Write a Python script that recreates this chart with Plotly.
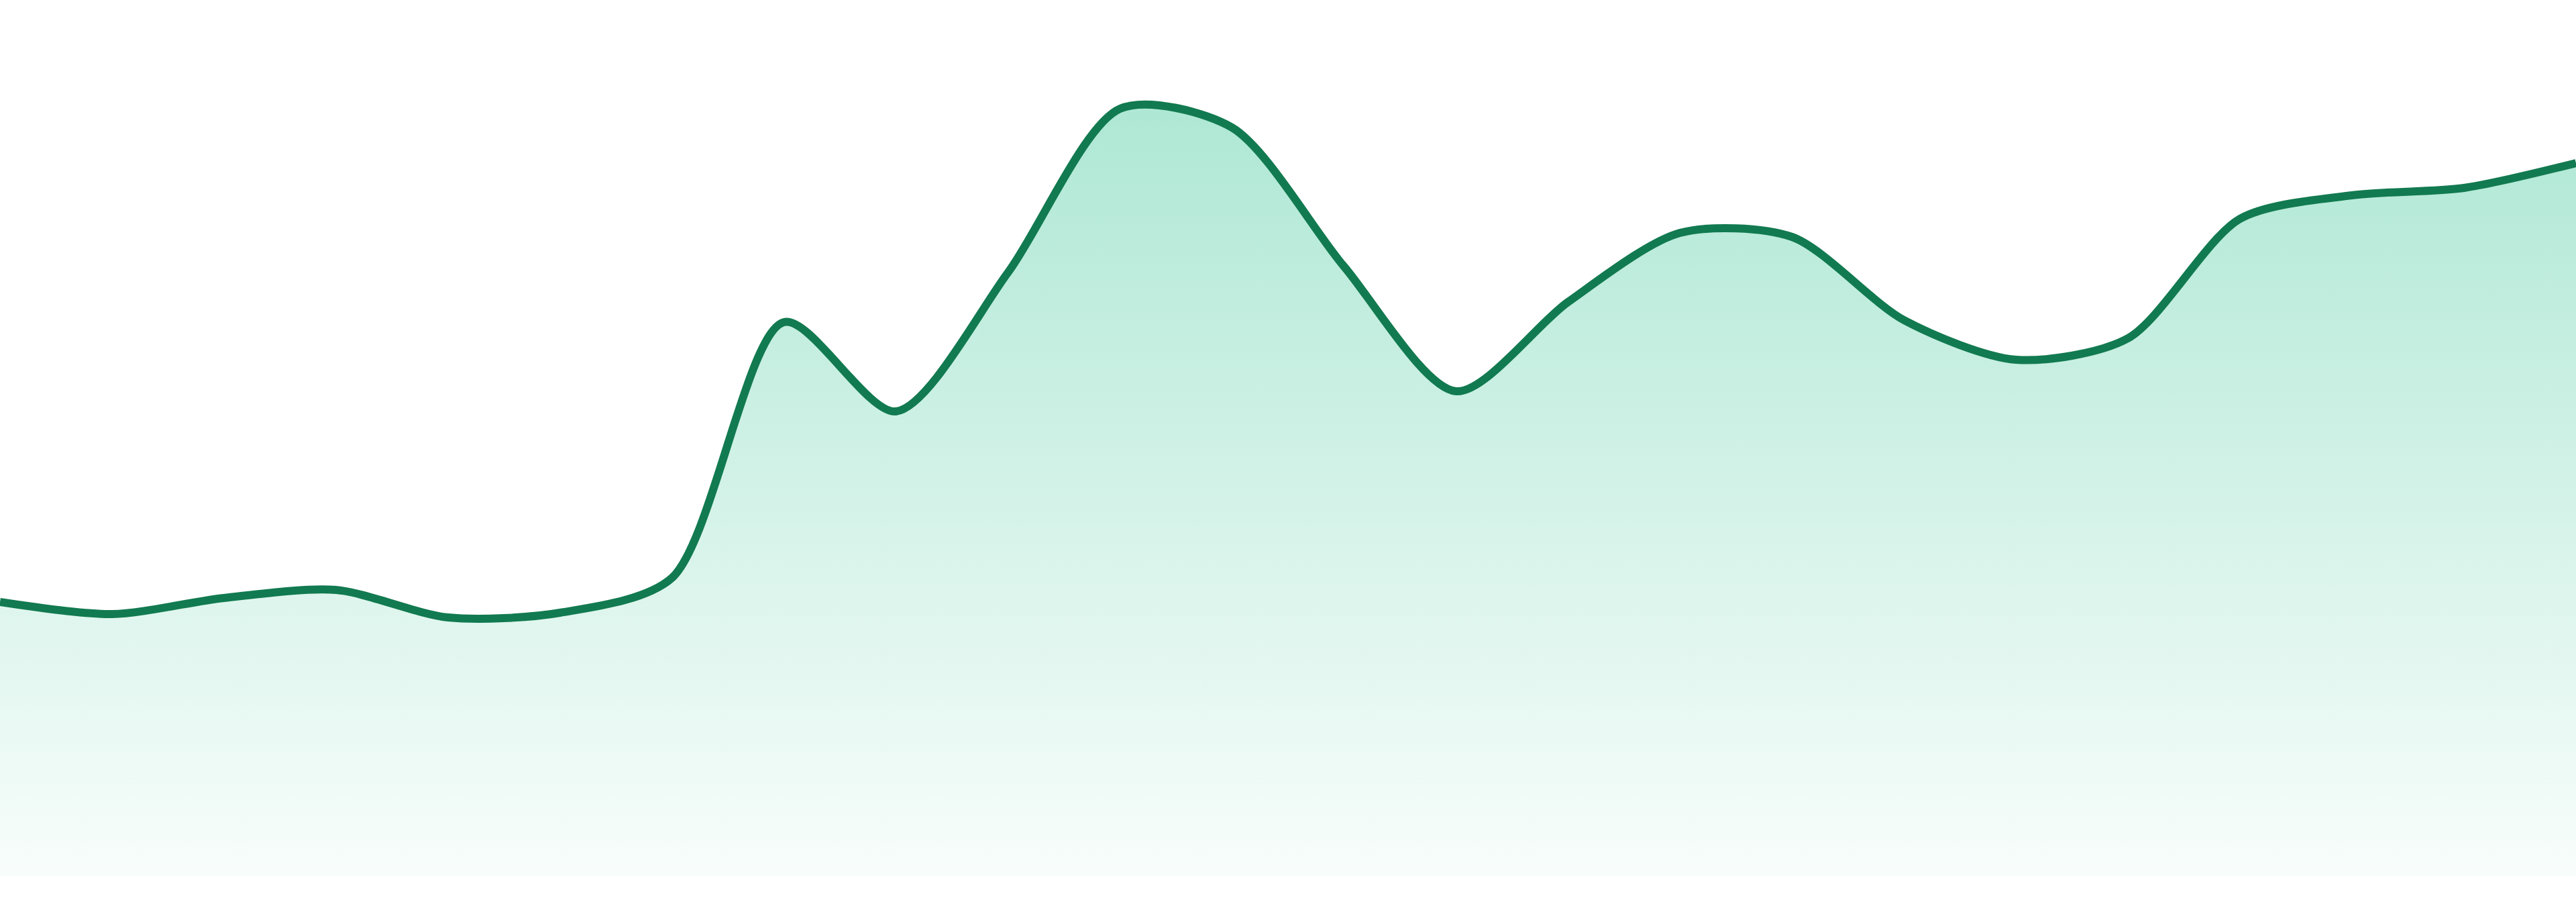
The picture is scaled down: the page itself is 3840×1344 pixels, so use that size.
"""
Area trend - smoothed green line with a soft vertical gradient fill
"""

import plotly.graph_objects as go

# Data (24 evenly spaced samples)
periods = list(range(24))
values = [
    40.8, 39.0, 41.4, 42.6, 38.5, 39.2, 44.4, 82.5,
    69.2, 89.9, 114.3, 111.5, 90.8, 72.2, 85.5, 95.8,
    95.2, 82.8, 76.9, 80.1, 97.9, 101.4, 102.5, 106.2,
]
y_top = 130.5

line_color = "#127a50"

fig = go.Figure()

fig.add_trace(
    go.Scatter(
        x=periods,
        y=values,
        mode="lines",
        line=dict(color=line_color, width=12, shape="spline", smoothing=0.8),
        fill="tozeroy",
        fillgradient=dict(
            type="vertical",
            start=0,
            stop=y_top,
            colorscale=[
                [0.0, "rgba(16,185,129,0.03)"],
                [1.0, "rgba(16,185,129,0.38)"],
            ],
        ),
        hoverinfo="skip",
    )
)

fig.update_layout(
    width=3840,
    height=1344,
    showlegend=False,
    paper_bgcolor="white",
    plot_bgcolor="white",
    margin=dict(l=0, r=0, t=0, b=39),
)

fig.update_xaxes(visible=False, range=[0, 23], showgrid=False, zeroline=False)
fig.update_yaxes(visible=False, range=[0, y_top], showgrid=False, zeroline=False)

# drop the browser's default body margin so the chart sits flush in the window
fig.write_html(
    "out.html",
    config={"displayModeBar": False},
    post_script="document.body.style.margin = '0';",
)
